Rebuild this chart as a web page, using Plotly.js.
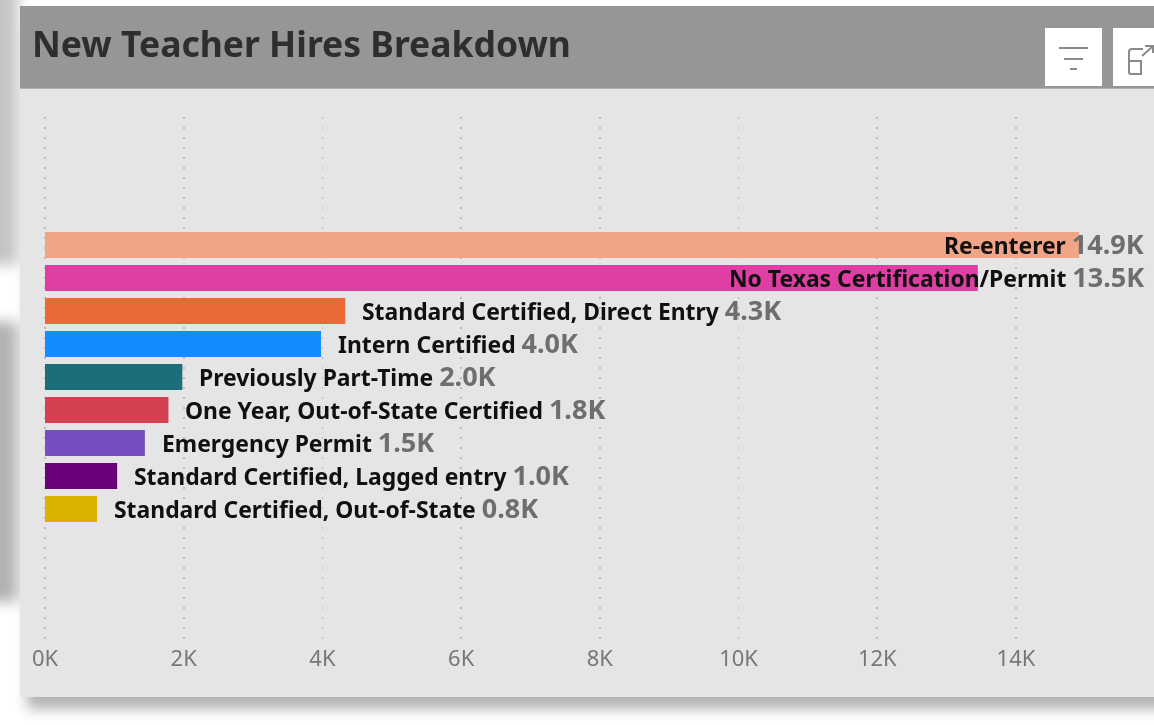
<!DOCTYPE html>
<html>
<head>
<meta charset="utf-8">
<script src="https://cdn.plot.ly/plotly-3.0.1.min.js"></script>
<style>
html,body{margin:0;padding:0;background:#fff;width:1154px;height:725px;overflow:hidden}
.abs{position:absolute}
#stage{position:absolute;left:0;top:0;width:1154px;height:725px;overflow:hidden;filter:blur(0.6px)}
#plot{position:absolute;left:0;top:0;width:1154px;height:725px}
</style>
</head>
<body>
<div id="stage">
  <div class="abs" style="left:-40px;top:-40px;width:58px;height:305px;background:#c4c4c4;filter:blur(7px)"></div>
  <div class="abs" style="left:-40px;top:322px;width:58px;height:280px;background:#b2b2b2;filter:blur(7px)"></div>
  <div class="abs" style="left:27px;top:20px;width:1160px;height:677px;box-shadow:0 12px 12px 0 rgba(0,0,0,.3)"></div>
  <div class="abs" style="left:20px;top:6px;width:1160px;height:691px;background:#e5e5e5"></div>
  <div class="abs" style="left:20px;top:6px;width:1160px;height:82px;background:#969696;border-bottom:1px solid #b0b0b0"></div>
  <div class="abs" style="left:1045px;top:28px;width:57px;height:58px;background:#fff"></div>
  <div class="abs" style="left:1113px;top:28px;width:60px;height:58px;background:#fff"></div>
  <svg class="abs" style="left:1045px;top:28px" width="109" height="58" fill="none" stroke="#8a8a8a" stroke-width="2">
    <path d="M14 20H43M19 31H38M25 41H32"/>
    <path d="M84 33V44a2 2 0 0 0 2 2H96V33H84V24a3 3 0 0 1 3-3H98M97 28 107 19M100 18H108V25"/>
  </svg>
  <div id="plot"></div>
</div>
<script>
const categories = ["Re-enterer","No Texas Certification/Permit","Standard Certified, Direct Entry","Intern Certified","Previously Part-Time","One Year, Out-of-State Certified","Emergency Permit","Standard Certified, Lagged entry","Standard Certified, Out-of-State"];
const values = [14.91,13.45,4.33,3.98,1.98,1.78,1.44,1.04,0.75];
const valueLabels = ["14.9K","13.5K","4.3K","4.0K","2.0K","1.8K","1.5K","1.0K","0.8K"];
const barColors = ["#F2A586","#DF3FA4","#E96A36","#118DFF","#1C6F78","#D64151","#744EC2","#6B007B","#D9B300"];
const tickValues = [0,2,4,6,8,10,12,14];
const tickLabels = ["0K","2K","4K","6K","8K","10K","12K","14K"];
const FONT = "'Noto Sans', 'Open Sans', sans-serif";
const labelEdge = 15.87;

const annotations = categories.map((c,i)=>{
  const inside = values[i] > 10;
  return {
    x: inside ? labelEdge : values[i], y: i, xref:'x', yref:'y',
    xanchor: inside ? 'right' : 'left', yanchor:'middle',
    xshift: inside ? 0 : 15, yshift: 2,
    showarrow:false,
    text: '<b>'+c+'</b> <span style="color:#6e6e6e;font-size:27px"><b>'+valueLabels[i]+'</b></span>',
    font:{family:FONT,size:22.9,color:'#101010'}
  };
});

Plotly.newPlot('plot',[{
  type:'bar',orientation:'h',x:values,y:categories.map((c,i)=>i),
  width:0.79,marker:{color:barColors,line:{width:0}},
  hoverinfo:'skip'
}],{
  width:1154,height:725,
  margin:{l:42,r:0,t:117,b:85,pad:0},
  paper_bgcolor:'rgba(0,0,0,0)',plot_bgcolor:'rgba(0,0,0,0)',
  title:{text:'<b>New Teacher Hires Breakdown</b>',x:32/1154,xanchor:'left',xref:'container',
    y:1-45/725,yanchor:'middle',yref:'container',font:{family:FONT,size:35.5,color:'#2e2e2e'}},
  xaxis:{range:[-0.0433,15.99],tickvals:tickValues,ticktext:tickLabels,showgrid:true,
    gridcolor:'#bcbcbc',griddash:'1.5px 8.5px',gridwidth:1.6,zeroline:false,showline:false,
    ticks:'',tickfont:{family:FONT,size:22,color:'#777'},automargin:false,ticklabelstandoff:3},
  yaxis:{range:[11.97,-3.88],showgrid:false,zeroline:false,showline:false,showticklabels:false,ticks:''},
  annotations:annotations,
  showlegend:false
},{displayModeBar:false,staticPlot:true});
</script>
</body>
</html>
